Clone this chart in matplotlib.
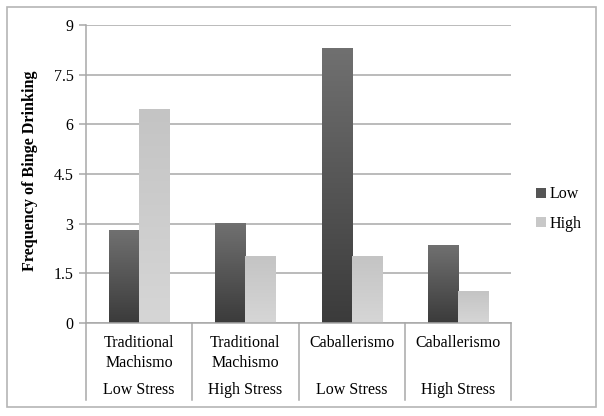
import matplotlib.pyplot as plt
import numpy as np
from matplotlib.patches import Rectangle, Patch
from matplotlib.colors import LinearSegmentedColormap
import matplotlib.transforms as mtransforms

# Данные
conditions = ["Traditional\nMachismo", "Traditional\nMachismo", "Caballerismo", "Caballerismo"]
stress = ["Low Stress", "High Stress", "Low Stress", "High Stress"]
low = [2.8, 3.0, 8.3, 2.35]
high = [6.45, 2.0, 2.0, 0.95]
yticks = [0, 1.5, 3, 4.5, 6, 7.5, 9]
ytick_labels = ["0", "1.5", "3", "4.5", "6", "7.5", "9"]

plt.rcParams['font.family'] = ['Liberation Serif', 'DejaVu Serif']

W, H = 604, 416
fig = plt.figure(figsize=(W / 100, H / 100), dpi=100)
ax = fig.add_axes([86 / W, 1 - 323 / H, (511 - 86) / W, (323 - 25) / H])

# рамка вокруг всего рисунка
fig.patches.append(Rectangle((7 / W, 1 - 407 / H), 589 / W, 400 / H, transform=fig.transFigure,
                             fill=False, edgecolor='#b5b5b5', linewidth=1.2))

x = np.arange(len(conditions))
bw = 0.283
dark_cmap = LinearSegmentedColormap.from_list('dark', ['#3b3b3b', '#707070'])
light_cmap = LinearSegmentedColormap.from_list('light', ['#d6d6d6', '#c4c4c4'])
grad = np.linspace(0, 1, 100).reshape(-1, 1)

bars_low = ax.bar(x - bw / 2, low, bw, color='none', zorder=3)
bars_high = ax.bar(x + bw / 2, high, bw, color='none', zorder=3)
for bars, cmap in [(bars_low, dark_cmap), (bars_high, light_cmap)]:
    for b in bars:
        x0, y0 = b.get_x(), b.get_y()
        ax.imshow(grad, cmap=cmap, origin='lower', aspect='auto', zorder=3,
                  extent=[x0, x0 + b.get_width(), y0, y0 + b.get_height()])

ax.set_xlim(-0.5, len(conditions) - 0.5)
ax.set_ylim(0, 9)
ax.set_yticks(yticks)
ax.set_yticklabels(ytick_labels, fontsize=11.5)
ax.yaxis.grid(True, color='#a8a8a8', linewidth=1.1, zorder=0)
ax.set_axisbelow(True)
ax.tick_params(axis='y', length=5, color='#a8a8a8', width=1.1, pad=4)
ax.set_xticks([])
for s in ['top', 'right', 'bottom']:
    ax.spines[s].set_visible(False)
ax.spines['left'].set_color('#a8a8a8')
ax.spines['left'].set_linewidth(1.1)

# подписи категорий в два уровня
trans = mtransforms.blended_transform_factory(ax.transData, ax.transAxes)
sep_bottom = (323 - 400) / 298
for i in range(len(conditions) + 1):
    ax.plot([i - 0.5, i - 0.5], [0, sep_bottom], transform=trans, color='#a8a8a8',
            linewidth=1.1, clip_on=False)
ax.plot([-0.5, len(conditions) - 0.5], [0, 0], transform=trans, color='#a8a8a8',
        linewidth=1.1, clip_on=False, zorder=4)
for i in range(len(conditions)):
    ax.text(i, -0.04, conditions[i], transform=trans, ha='center', va='top',
            fontsize=11.5, linespacing=1.3)
    ax.text(i, -0.225, stress[i], transform=trans, ha='center', va='center', fontsize=11.5)

fig.text(30 / W, 1 - 171 / H, 'Frequency of Binge Drinking', rotation=90,
         ha='center', va='center', fontsize=11.6, fontweight='bold')

handles = [Patch(facecolor='#555555'), Patch(facecolor='#c8c8c8')]
fig.legend(handles, ['Low', 'High'], loc='center left', bbox_to_anchor=(522 / W, 1 - 209 / H),
           frameon=False, fontsize=11.5, handlelength=0.6, handleheight=0.6,
           handletextpad=0.25, labelspacing=0.85)

fig.savefig('out.png', dpi=100)
